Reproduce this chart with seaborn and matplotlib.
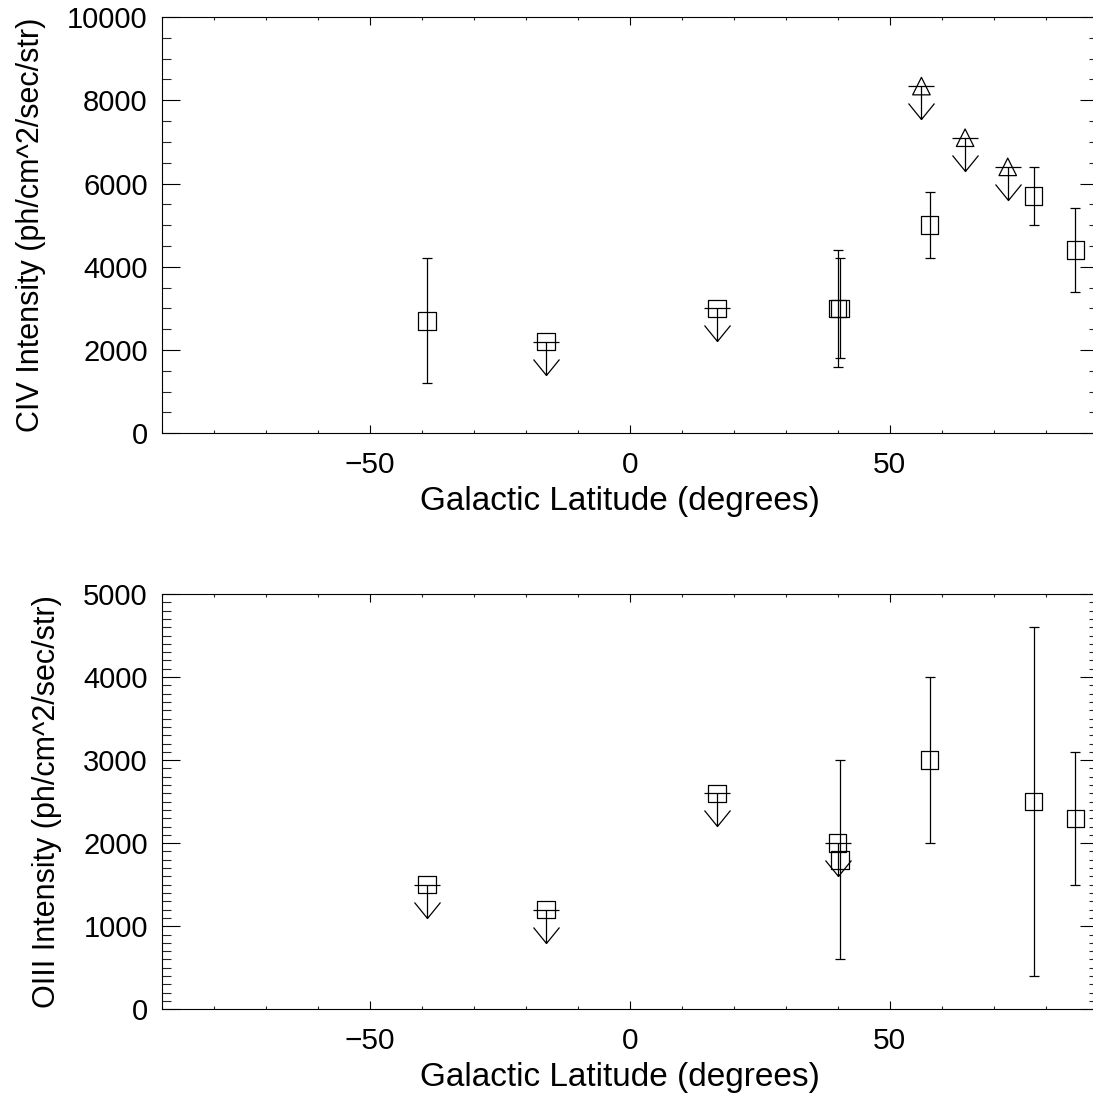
import numpy as np
import pandas as pd
import matplotlib
matplotlib.use("Agg")
import matplotlib.pyplot as plt
from matplotlib.path import Path
from matplotlib.ticker import MultipleLocator, FixedLocator
import seaborn as sns

# ---------------- data ----------------
# CIV panel: detections with error bars
civ_lat = [-39.0, 40.0, 40.4, 57.7, 77.7, 85.7]
civ_val = [2700, 3000, 3000, 5000, 5700, 4400]
civ_err = [1500, 1400, 1200, 800, 700, 1000]
# CIV upper limits (squares)
civ_lim_sq_lat = [-16.1, 16.8]
civ_lim_sq_val = [2200, 3000]
# CIV upper limits (triangles)
civ_lim_tri_lat = [56.1, 64.5, 72.7]
civ_lim_tri_val = [8340, 7100, 6400]

# OIII panel: detections with error bars
oiii_lat = [40.4, 57.7, 77.7, 85.7]
oiii_val = [1800, 3000, 2500, 2300]
oiii_err = [1200, 1000, 2100, 800]
# OIII upper limits (squares)
oiii_lim_lat = [-39.0, -16.1, 16.8, 40.0]
oiii_lim_val = [1500, 1200, 2600, 2000]

x_ticks = [-50, 0, 50]
civ_ylabel = "CIV Intensity (ph/cm^2/sec/str)"
oiii_ylabel = "OIII Intensity (ph/cm^2/sec/str)"
xlabel = "Galactic Latitude (degrees)"

# ---------------- style ----------------
sns.set_theme(style="ticks")
plt.rcParams["font.family"] = ["Liberation Sans", "DejaVu Sans"]
plt.rcParams["axes.linewidth"] = 0.8
plt.rcParams["axes.edgecolor"] = "black"

W, H = 1093, 1094
fig = plt.figure(figsize=(W / 100, H / 100), dpi=100)

left_px, right_px = 161.7, 1097.7
ax1 = fig.add_axes([left_px / W, (H - 433.3) / H, (right_px - left_px) / W, (433.3 - 17) / H])
ax2 = fig.add_axes([left_px / W, (H - 1009.3) / H, (right_px - left_px) / W, (1009.3 - 594) / H])

# upper-limit arrow marker: horizontal bar at value, shaft and V head below
verts = [(-13, 0), (13, 0), (0, 0), (0, -33), (-13, -17), (0, -33), (13, -17)]
codes = [Path.MOVETO, Path.LINETO, Path.MOVETO, Path.LINETO, Path.MOVETO, Path.LINETO, Path.LINETO]
arrow_path = Path(verts, codes)
arrow_ms = 66 * 0.72  # points

sq_s = (17.5 * 0.72) ** 2
lw = 0.9


def scatter_hollow(ax, x, y, marker):
    df = pd.DataFrame({"x": x, "y": y})
    sns.scatterplot(data=df, x="x", y="y", marker=marker, s=sq_s, ax=ax,
                    color="black", linewidth=lw, zorder=3)
    coll = ax.collections[-1]
    coll.set_facecolor("none")
    coll.set_edgecolor("black")
    coll.set_linewidth(lw)


def upper_limits(ax, x, y, marker):
    scatter_hollow(ax, x, y, marker)
    ax.plot(x, y, linestyle="none", marker=arrow_path, markersize=arrow_ms,
            markeredgecolor="black", markerfacecolor="none", markeredgewidth=lw, zorder=3)


def detections(ax, x, y, e):
    ax.errorbar(x, y, yerr=e, fmt="none", ecolor="black", elinewidth=lw,
                capsize=3.6, capthick=lw, zorder=2)
    scatter_hollow(ax, x, y, "s")


# top panel
detections(ax1, civ_lat, civ_val, civ_err)
upper_limits(ax1, civ_lim_sq_lat, civ_lim_sq_val, "s")
upper_limits(ax1, civ_lim_tri_lat, civ_lim_tri_val, "^")

# bottom panel
detections(ax2, oiii_lat, oiii_val, oiii_err)
upper_limits(ax2, oiii_lim_lat, oiii_lim_val, "s")

for ax, ymax, ymaj, ymin, ylab in [(ax1, 10000, 2000, 500, civ_ylabel),
                                    (ax2, 5000, 1000, 100, oiii_ylabel)]:
    ax.set_xlim(-90, 90)
    ax.set_ylim(0, ymax)
    ax.xaxis.set_major_locator(FixedLocator(x_ticks))
    ax.xaxis.set_minor_locator(MultipleLocator(10))
    ax.yaxis.set_major_locator(MultipleLocator(ymaj))
    ax.yaxis.set_minor_locator(MultipleLocator(ymin))
    ax.tick_params(axis="y", which="major", direction="in", length=13, width=0.8,
                   left=True, right=True, labelsize=21, pad=10, colors="black")
    ax.tick_params(axis="y", which="minor", direction="in", length=6.5, width=0.8,
                   left=True, right=True)
    ax.tick_params(axis="x", which="major", direction="in", length=5.5, width=0.8,
                   top=True, bottom=True, labelsize=21.4, pad=13, colors="black")
    ax.tick_params(axis="x", which="minor", direction="in", length=2.5, width=0.8,
                   top=True, bottom=True)
    ax.set_xlabel(xlabel, fontsize=24, labelpad=1, color="black")
    ax.xaxis.label.set_horizontalalignment("center")
    ax.xaxis.set_label_coords(0.4896, -0.1, transform=None)
    ax.xaxis.set_label_coords(0.4896, ax.xaxis.label.get_position()[1])
    ax.set_ylabel(ylab, fontsize=22, labelpad=15, color="black")
    for sp in ax.spines.values():
        sp.set_visible(True)
        sp.set_color("black")
        sp.set_linewidth(0.8)
    ax.set_facecolor("white")

# set_label_coords disables automatic vertical placement; place x labels explicitly
for ax in (ax1, ax2):
    h_ax = ax.get_position().height * H
    ax.xaxis.set_label_coords(0.4896, -(510 - 433.3) / h_ax)
    ax.xaxis.label.set_verticalalignment("baseline")

fig.savefig("out.png", dpi=100, facecolor="white")
